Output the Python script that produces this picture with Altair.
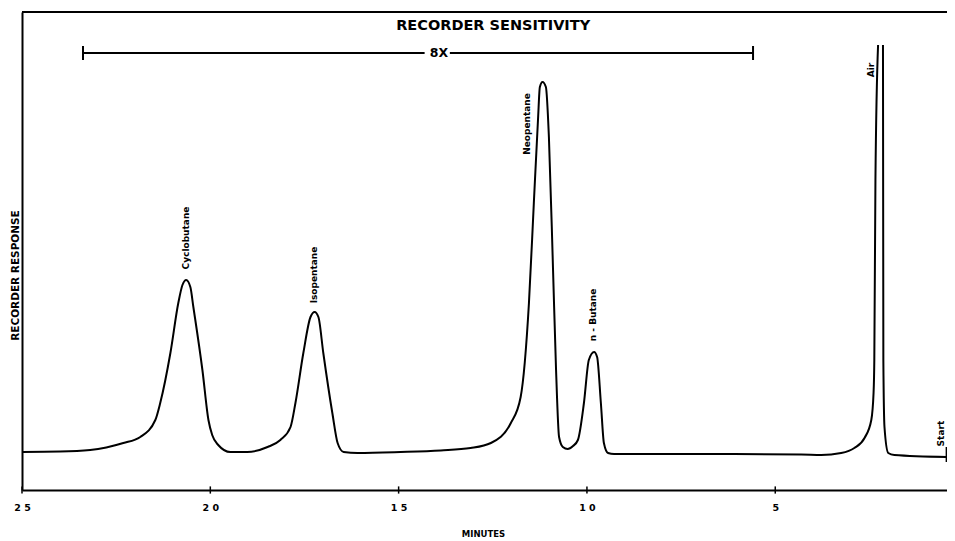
import altair as alt
import pandas as pd

# ---- chromatogram trace (minutes, recorder response units) ----
# part 1: from 25 min up to the top of the (off-scale) air peak, left flank
minutes_a = [25.00, 23.99, 23.19, 22.31, 21.86, 21.46, 21.33, 21.06, 20.85, 20.74,
             20.64, 20.53, 20.45, 20.21, 20.05, 19.95, 19.79, 19.47, 19.02, 18.48,
             18.14, 17.87, 17.74, 17.53, 17.34, 17.23, 17.13, 17.00, 16.76, 16.62,
             16.46, 16.09, 14.95, 13.88, 13.09, 12.55, 12.02, 11.76, 11.54, 11.41,
             11.30, 11.25, 11.18, 11.09, 11.01, 10.90, 10.82, 10.74, 10.64, 10.51,
             10.37, 10.24, 10.08, 9.95, 9.81, 9.73, 9.63, 9.55, 9.44, 9.28,
             6.97, 4.31, 3.78, 3.25, 2.90, 2.63, 2.45, 2.39, 2.37, 2.34, 2.27]
response_a = [9.5, 9.6, 10.0, 11.75, 13.25, 17.5, 21.75, 34.25, 46.75, 51.25,
              52.5, 50.75, 45.75, 30.0, 17.5, 13.75, 11.25, 9.5, 9.5, 10.75,
              12.5, 15.75, 21.75, 34.25, 43.25, 44.5, 43.25, 34.25, 19.25, 11.75,
              9.5, 9.25, 9.5, 9.9, 10.5, 11.75, 16.75, 23.25, 46.75, 71.75,
              92.5, 100.75, 102.0, 100.75, 88.25, 55.0, 30.0, 13.25, 10.75, 10.25,
              11.0, 12.5, 21.75, 32.5, 34.5, 33.25, 21.75, 11.75, 9.25, 9.0,
              9.0, 8.9, 8.75, 9.25, 10.5, 13.0, 17.5, 24.25, 32.5, 77.5, 111.25]
# part 2: right flank of the air peak down to the start mark
minutes_b = [2.14, 2.13, 2.10, 2.00, 1.84, 0.45]
response_b = [111.25, 32.5, 15.75, 9.25, 8.75, 8.25]

# ---- axis ticks ----
tick_minutes = [25, 20, 15, 10, 5]

# ---- peak labels ----
peak_names = ["Cyclobutane", "Isopentane", "Neopentane", "n - Butane", "Air", "Start"]
peak_label_minutes = [20.64, 17.26, 11.58, 9.85, 2.45, 0.59]
peak_label_response = [63.0, 53.75, 91.5, 43.75, 105.0, 14.1]

# ---- start mark ----
start_minutes = [0.45]
start_low = [7.0]
start_high = [10.75]

# ---- recorder sensitivity bracket ----
bracket_x_start = [23.38, 13.64, 23.38, 5.59]
bracket_x_end = [14.31, 5.59, 23.38, 5.59]
bracket_y_start = [109.25, 109.25, 107.5, 107.5]
bracket_y_end = [109.25, 109.25, 111.0, 111.0]
bracket_label = ["8X"]
bracket_label_minutes = [13.93]
bracket_label_response = [109.25]

header_text = ["RECORDER   SENSITIVITY"]
header_minutes = [12.49]
header_response = [116.0]

frame_top = [119.5]

# ---- tables ----
trace = pd.DataFrame({
    "minutes": minutes_a + minutes_b,
    "response": response_a + response_b,
    "seg": ["a"] * len(minutes_a) + ["b"] * len(minutes_b),
    "idx": list(range(len(minutes_a))) + list(range(len(minutes_b))),
})
ticks_df = pd.DataFrame({"minutes": tick_minutes,
                         "lo": [-0.9] * len(tick_minutes),
                         "hi": [0.9] * len(tick_minutes)})
labels_df = pd.DataFrame({"name": peak_names, "minutes": peak_label_minutes,
                          "response": peak_label_response})
start_df = pd.DataFrame({"minutes": start_minutes, "lo": start_low, "hi": start_high})
bracket_df = pd.DataFrame({"minutes": bracket_x_start, "minutes2": bracket_x_end,
                           "response": bracket_y_start, "response2": bracket_y_end})
blabel_df = pd.DataFrame({"t": bracket_label, "minutes": bracket_label_minutes,
                          "response": bracket_label_response})
header_df = pd.DataFrame({"t": header_text, "minutes": header_minutes,
                          "response": header_response})
frame_df = pd.DataFrame({"response": frame_top})

FONT = "DejaVu Sans"

x_scale = alt.Scale(domain=[0.44, 25], reverse=True, nice=False, zero=False)
y_scale = alt.Scale(domain=[0, 119.5], nice=False, zero=False)

x_axis = alt.Axis(
    values=tick_minutes, ticks=False, grid=False, labelFlush=False, labelOverlap=False,
    labelExpr="datum.value >= 10 ? slice(datum.label, 0, 1) + ' ' + slice(datum.label, 1) : datum.label",
    labelFont=FONT, labelFontSize=9.5, labelFontWeight="bold", labelPadding=12,
    labelColor="black",
    title="MINUTES", titleFont=FONT, titleFontSize=8.5, titleFontWeight="bold",
    titleX=461, titleY=43, titleBaseline="middle", titleColor="black",
    domainColor="black", domainWidth=2,
)
y_axis = alt.Axis(
    labels=False, ticks=False, grid=False,
    title="RECORDER   RESPONSE", titleFont=FONT, titleFontSize=10.5, titleFontWeight="bold",
    titleAngle=270, titleX=-7, titleY=263, titleAlign="center", titleBaseline="middle",
    titleColor="black", domainColor="black", domainWidth=2,
)


def X(field="minutes"):
    return alt.X(field, type="quantitative", scale=x_scale, axis=x_axis)


def Y(field="response"):
    return alt.Y(field, type="quantitative", scale=y_scale, axis=y_axis)


line = alt.Chart(trace).mark_line(
    color="black", strokeWidth=2, interpolate="monotone", strokeJoin="round"
).encode(x=X(), y=Y(), detail="seg:N", order="idx:Q")

frame = alt.Chart(frame_df).mark_rule(color="black", strokeWidth=2).encode(y=Y())

tick_marks = alt.Chart(ticks_df).mark_rule(color="black", strokeWidth=1.5, clip=False).encode(
    x=X(), y=Y("lo"), y2="hi")

peak_text = alt.Chart(labels_df).mark_text(
    angle=270, font=FONT, fontSize=9, fontWeight="bold", color="black",
    align="center", baseline="middle"
).encode(x=X(), y=Y(), text="name:N")

start_mark = alt.Chart(start_df).mark_rule(color="black", strokeWidth=2, clip=False).encode(
    x=X(), y=Y("lo"), y2="hi")

bracket = alt.Chart(bracket_df).mark_rule(color="black", strokeWidth=2).encode(
    x=X(), x2="minutes2", y=Y(), y2="response2")

bracket_text = alt.Chart(blabel_df).mark_text(
    font=FONT, fontSize=12.5, fontWeight="bold", color="black",
    align="center", baseline="middle"
).encode(x=X(), y=Y(), text="t:N")

header = alt.Chart(header_df).mark_text(
    font=FONT, fontSize=14.5, fontWeight="bold", color="black",
    align="center", baseline="middle"
).encode(x=X(), y=Y(), text="t:N")

chart = alt.layer(
    frame, line, tick_marks, start_mark, bracket, bracket_text, header, peak_text
).properties(
    width=925, height=478,
    autosize=alt.AutoSizeParams(type="none"),
    padding={"left": 14, "top": 4, "right": 0, "bottom": 54},
    background="white",
).configure_view(strokeWidth=0)

chart.save("out.html", embed_options={"renderer": "svg", "actions": False})
